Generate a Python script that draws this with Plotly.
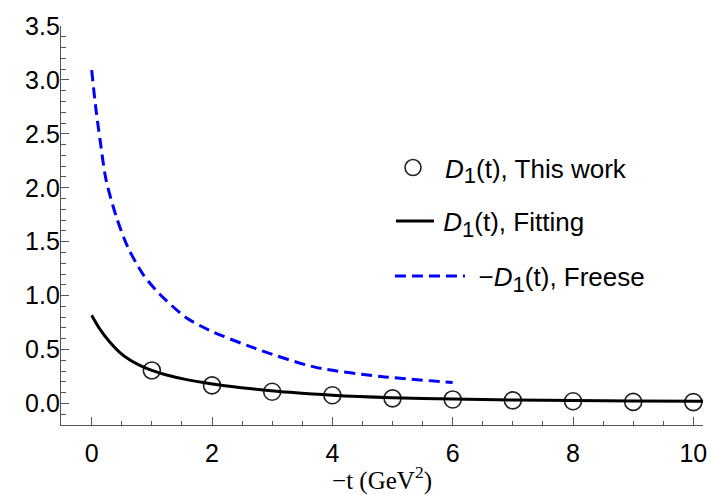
import plotly.graph_objects as go

# ---- data ----
work_t = [1, 2, 3, 4, 5, 6, 7, 8, 9, 10]
work_d = [0.306, 0.167, 0.108, 0.076, 0.047, 0.037, 0.028, 0.020, 0.014, 0.012]

fit_t = [0.0, 0.13, 0.30, 0.46, 0.63, 0.80, 1.0, 1.23, 1.56, 1.98, 2.39, 2.77, 3.3, 4.0, 5.0, 6.0, 7.0, 8.0, 9.0, 10.16]
fit_d = [0.817, 0.693, 0.569, 0.476, 0.405, 0.353, 0.306, 0.266, 0.223, 0.183, 0.152, 0.130, 0.103, 0.076, 0.053, 0.040, 0.032, 0.027, 0.023, 0.020]

freese_t = [0.0, 0.066, 0.14, 0.24, 0.41, 0.60, 0.85, 1.12, 1.56, 1.95, 2.72, 3.71, 4.81, 6.0]
freese_d = [3.09, 2.75, 2.44, 2.07, 1.73, 1.45, 1.20, 1.02, 0.80, 0.68, 0.51, 0.337, 0.25, 0.195]

x_ticks = [0, 2, 4, 6, 8, 10]
y_ticks = [0.0, 0.5, 1.0, 1.5, 2.0, 2.5, 3.0, 3.5]

SANS = "Liberation Sans, Arial, sans-serif"
SERIF = "Liberation Serif, Times New Roman, serif"

D1 = '<i>D</i><sub><span style="font-size:22px">1</span></sub>(t)'

fig = go.Figure()

fig.add_trace(go.Scatter(
    x=work_t, y=work_d, mode="markers", showlegend=True,
    marker=dict(symbol="circle-open", size=17, color="#222222", line=dict(width=1.6, color="#222222")),
    name=D1 + ", This work", legend="legend"))

fig.add_trace(go.Scatter(
    x=fit_t, y=fit_d, mode="lines", showlegend=True,
    line=dict(color="black", width=3, shape="spline", smoothing=0.8),
    name="\u2006" + D1 + ", Fitting", legend="legend2"))

fig.add_trace(go.Scatter(
    x=freese_t, y=freese_d, mode="lines", showlegend=True,
    line=dict(color="#0000ff", width=3, dash="11px,6px", shape="spline", smoothing=0.8),
    name="\u2004\u2212" + D1 + ", Freese", legend="legend3"))

axis_common = dict(
    showline=True, linecolor="#555555", linewidth=1.3, mirror=False,
    ticks="inside", tickcolor="#555555", tickwidth=1.2,
    showgrid=False, zeroline=False,
    tickfont=dict(family=SANS, size=25, color="black"),
    ticklabeloverflow="allow",
)

leg_font = dict(family=SANS, size=26, color="black")

def px_x(p):
    return (p - 61) / 646.0

fig.update_layout(
    width=711, height=495,
    showlegend=True,
    margin=dict(l=61, r=4, t=26, b=70),
    plot_bgcolor="white", paper_bgcolor="white",
    xaxis=dict(range=[-0.51, 10.16], tickvals=x_ticks, ticklen=8,
               minor=dict(dtick=0.5, ticks="inside", ticklen=4, tickcolor="#555555"),
               ticklabelstandoff=6,
               title=dict(text="\u2212t (GeV<sup>2</sup>)", font=dict(family=SERIF, size=25, color="black"), standoff=0),
               **axis_common),
    yaxis=dict(range=[-0.2, 3.5], tickvals=y_ticks, tickformat=".1f", ticklen=8,
               minor=dict(dtick=0.1, ticks="inside", ticklen=5, tickcolor="#555555"),
               ticklabelstandoff=-5,
               **axis_common),
    legend=dict(x=px_x(383), y=0.645, xanchor="left", yanchor="middle", bgcolor="rgba(0,0,0,0)",
                itemwidth=54, font=leg_font),
    legend2=dict(x=px_x(393), y=0.511, xanchor="left", yanchor="middle", bgcolor="rgba(0,0,0,0)",
                 itemwidth=38, font=leg_font),
    legend3=dict(x=px_x(392), y=0.373, xanchor="left", yanchor="middle", bgcolor="rgba(0,0,0,0)",
                 itemwidth=70, font=leg_font),
)

fig.write_html("out.html")
